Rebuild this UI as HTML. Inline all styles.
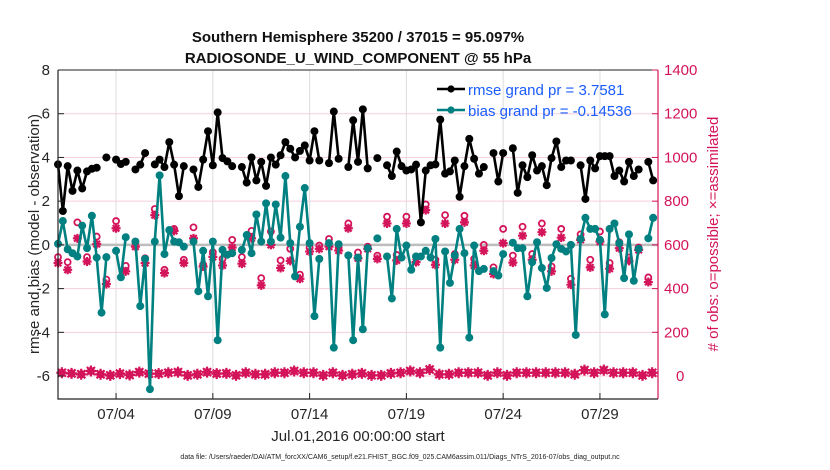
<!DOCTYPE html>
<html><head><meta charset="utf-8"><style>
body{margin:0;background:#fff;}
svg{display:block;font-family:"Liberation Sans",Arial,sans-serif;}
</style></head><body>
<svg id="chart" width="830" height="470" viewBox="0 0 830 470" xmlns="http://www.w3.org/2000/svg">
<rect x="0" y="0" width="830" height="470" fill="#fff"/>
<g id="grid"></g>
<g id="series"></g>
<g id="axes"></g>
</svg>
<script>
const xTickLabels=["07/04","07/09","07/14","07/19","07/24","07/29"];
const xTickDays=[3,8,13,18,23,28];
const yTickLabels=[8,6,4,2,0,-2,-4,-6];
const rTickLabels=[1400,1200,1000,800,600,400,200,0];
const rmse=[3.68,1.55,3.6,2.47,3.4,2.58,3.36,3.48,3.53,null,4.0,null,3.9,3.7,3.8,null,3.45,3.67,4.2,null,3.68,3.9,3.56,4.7,3.67,2.23,3.6,null,3.45,2.65,3.9,5.2,3.64,6.06,3.97,3.82,3.6,null,3.56,2.85,4.0,2.95,3.8,2.7,4.0,3.67,4.1,4.7,4.4,4.0,4.3,4.55,3.86,5.2,3.86,null,3.74,6.1,3.94,null,3.56,5.7,3.8,6.2,3.5,null,3.97,null,3.64,3.15,4.27,3.6,3.4,3.45,3.67,1.03,3.4,3.64,3.68,5.73,3.26,3.36,3.86,2.2,3.6,4.85,3.94,3.26,3.56,null,4.2,2.9,4.2,null,4.42,2.38,3.64,3.1,4.1,3.4,3.6,2.73,3.97,4.73,3.56,3.86,3.86,null,3.64,2.1,3.86,3.5,4.06,4.06,4.06,3.15,3.4,2.9,3.8,3.15,3.45,null,3.8,2.95];
const bias=[0.05,1.09,-0.2,-0.38,-0.53,0.88,-0.15,1.33,-0.58,-3.1,-0.56,null,-0.27,-1.48,0.35,null,0.15,-2.8,-0.64,-6.6,0.15,3.18,-0.42,0.68,0.15,0.12,-0.08,null,0.15,-2.12,-0.27,-2.35,0.15,-4.36,-0.23,-0.45,-0.38,null,-0.23,0.45,-0.38,1.39,0.15,1.9,0.15,1.85,0.33,3.15,0.08,-1.44,0.83,2.6,0.08,-3.26,-0.64,null,0.08,-4.7,0.03,null,-0.48,-4.36,-0.58,-3.86,-0.15,null,0.3,null,-0.53,-2.45,0.73,-0.58,-0.03,-1.14,-0.53,-0.53,-0.27,-0.58,0.27,-4.7,-0.3,-1.74,-0.48,0.73,-0.38,-4.24,-0.03,-1.2,-1.1,null,-1.2,-1.4,-0.42,null,0.1,-0.15,-0.15,-2.35,-0.79,0.12,-1.06,-1.97,-0.6,0.03,-0.18,-0.3,0,-4.12,0.27,1.24,0.73,0.73,0.23,-3.18,0.73,0.98,0.08,-1.52,0.48,-1.64,-0.18,null,0.3,1.24];
const nPossible=[544,521,703,544,638,441,709,504,615,539,764,486,673,532,680,509,566,536,623,544,664,448,661,529,582,464,588,597,627,588,698,565,592,551,729,554,729,547,785,532,736,558,733,536,600,497,673,551,683,558,698,501,673,445,648,532,661,517,612,542,588,451];
const nAssim=[517,486,630,524,604,421,676,479,592,517,736,471,664,517,630,501,545,506,588,514,630,415,600,494,527,445,570,582,592,574,676,539,582,536,698,529,698,521,759,509,698,532,703,506,573,467,608,519,642,532,658,479,633,418,623,497,615,491,585,527,577,430];
const nLow=[15,12,8,23,8,3,11,5,18,11,11,15,18,3,8,18,11,12,3,15,8,8,15,15,23,15,15,3,15,3,8,12,3,3,12,15,23,15,30,8,8,15,15,15,3,15,3,15,15,15,15,15,15,8,27,15,27,15,15,15,3,15];

const NS="http://www.w3.org/2000/svg";
const L=58,R=658,T=70,B=399;
const X0=0,X1=31;
const yMin=-7.05,yMax=8;
function xs(d){return L+(d-X0)/(X1-X0)*(R-L);}
function ys(v){return B-(v-yMin)/(yMax-yMin)*(B-T);}
function yc(c){return ys(c/100-6);}
const PINK="#d4145a",TEAL="#008080";
function mk(tag,attrs,parent,text){const e=document.createElementNS(NS,tag);for(const k in attrs)e.setAttribute(k,attrs[k]);if(text!==undefined)e.textContent=text;parent.appendChild(e);return e;}
const grid=document.getElementById('grid'),ser=document.getElementById('series'),axes=document.getElementById('axes');

xTickDays.forEach((d,i)=>{const g=mk('line',{x1:xs(d),x2:xs(d),y1:T,y2:B,stroke:'#dcdcdc','stroke-width':1},grid);

});
yTickLabels.forEach(v=>{const g=mk('line',{x1:L,x2:R,y1:ys(v),y2:ys(v),stroke:'#f6cfdc','stroke-width':1},grid);

});
const zl=mk('line',{x1:L,x2:R,y1:ys(0),y2:ys(0),stroke:'#bdbdbd','stroke-width':2.5},grid);



function dayOf(i){return i*0.25;}
function drawLine(arr,color,name){
  let segs=[],cur=[];
  arr.forEach((v,i)=>{if(v===null){if(cur.length)segs.push(cur);cur=[];}else cur.push([xs(dayOf(i)),ys(v)]);});
  if(cur.length)segs.push(cur);
  const g=mk('g',{},ser);
  
  
  segs.forEach(s=>{if(s.length>1){const p=mk('polyline',{points:s.map(q=>q.join(',')).join(' '),fill:'none',stroke:color,'stroke-width':2.6,'stroke-linejoin':'round'},g);
  
  }});
  arr.forEach((v,i)=>{if(v===null)return;const c=mk('circle',{cx:xs(dayOf(i)),cy:ys(v),r:4,fill:color},g);
  
  });
}
function star(x,y,g,name,sz){
  const a=sz||4.5,b=a*0.73;
  const s=mk('path',{d:`M${x-a},${y}H${x+a}M${x},${y-a}V${y+a}M${x-b},${y-b}L${x+b},${y+b}M${x-b},${y+b}L${x+b},${y-b}`,stroke:PINK,'stroke-width':2.2,fill:'none'},g);
  
  
}
const cg=mk('g',{},ser);


nPossible.forEach((c,k)=>{const o=mk('circle',{cx:xs(k*0.5),cy:yc(c),r:3,fill:'none',stroke:PINK,'stroke-width':1.8},cg);

});
nAssim.forEach((c,k)=>{star(xs(k*0.5),yc(c),cg,'assimilated-count-marker');});
nLow.forEach((c,k)=>{const x=xs(k*0.5+0.2),y=yc(c);
const o=mk('circle',{cx:x,cy:y,r:4,fill:PINK},cg);


star(x,y,cg,'low-assimilated-marker',5.5);});

drawLine(bias,TEAL,'bias');
drawLine(rmse,'#000','rmse');

const ax=mk('path',{d:`M${L},${T}V${B}H${R}`,stroke:'#222',fill:'none','stroke-width':1.2},axes);


const tp=mk('line',{x1:L,x2:R,y1:T,y2:T,stroke:'#222','stroke-width':1},axes);


const ra=mk('line',{x1:R,x2:R,y1:T,y2:B,stroke:PINK,'stroke-width':1.2},axes);


xTickDays.forEach((d,i)=>{
  const t=mk('line',{x1:xs(d),x2:xs(d),y1:B,y2:B-6,stroke:'#222'},axes);
  
  
  const l=mk('text',{x:xs(d),y:B+20,'text-anchor':'middle','font-size':15,fill:'#262626'},axes,xTickLabels[i]);
  
  
});
yTickLabels.forEach(v=>{
  const t=mk('line',{x1:L,x2:L+6,y1:ys(v),y2:ys(v),stroke:'#222'},axes);
  
  
  const l=mk('text',{x:L-8,y:ys(v)+5,'text-anchor':'end','font-size':15,fill:'#262626'},axes,String(v));
  
  
});
rTickLabels.forEach(c=>{
  const t=mk('line',{x1:R,x2:R-6,y1:yc(c),y2:yc(c),stroke:PINK},axes);
  
  
  const l=mk('text',{x:c===0?676:R+6,y:yc(c)+5,'text-anchor':'start','font-size':15,fill:PINK},axes,String(c));
  
  
});
</script>
<svg style="position:absolute;left:0;top:0" width="830" height="470" xmlns="http://www.w3.org/2000/svg" font-family="Liberation Sans, Arial, sans-serif">
<text x="358" y="42" text-anchor="middle" font-size="15" font-weight="bold" fill="#111">Southern Hemisphere 35200 / 37015 = 95.097%</text>
<text x="358" y="63" text-anchor="middle" font-size="15" font-weight="bold" fill="#111">RADIOSONDE_U_WIND_COMPONENT @ 55 hPa</text>
<g>
<line x1="437" y1="89" x2="465" y2="89" stroke="#000" stroke-width="2.6"/><circle cx="451" cy="89" r="3.6" fill="#000"/>
<text x="468" y="95" font-size="15" fill="#1a5cff">rmse grand pr = 3.7581</text>
<line x1="437" y1="110" x2="465" y2="110" stroke="#008080" stroke-width="2.6"/><circle cx="451" cy="110" r="3.6" fill="#008080"/>
<text x="468" y="116" font-size="15" fill="#1a5cff">bias grand pr = -0.14536</text>
</g>
<text transform="translate(39,234) rotate(-90)" text-anchor="middle" font-size="15" fill="#262626">rmse and bias (model - observation)</text>
<text transform="translate(718,234) rotate(-90)" text-anchor="middle" font-size="15" fill="#d4145a"># of obs: o=possible; ×=assimilated</text>
<text x="358" y="441" text-anchor="middle" font-size="15" fill="#262626">Jul.01,2016 00:00:00 start</text>
<text x="400" y="459" text-anchor="middle" font-size="7" fill="#222">data file: /Users/raeder/DAI/ATM_forcXX/CAM6_setup/f.e21.FHIST_BGC.f09_025.CAM6assim.011/Diags_NTrS_2016-07/obs_diag_output.nc</text>
</svg>
</body></html>
